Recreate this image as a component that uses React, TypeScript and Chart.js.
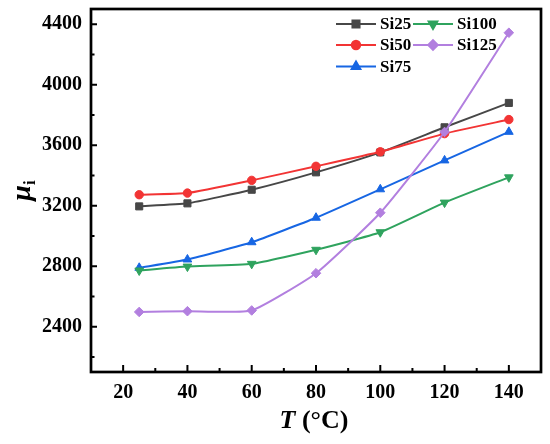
import React, { useEffect, useRef } from 'react';
import { Chart, registerables } from 'chart.js';
import { drawPoint } from 'chart.js/helpers';

Chart.register(...registerables);

const temperatures = [25, 40, 60, 80, 100, 120, 140];
const si25 = [3195, 3215, 3305, 3420, 3552, 3718, 3879];
const si50 = [3272, 3283, 3367, 3460, 3556, 3676, 3769];
const si75 = [2789, 2844, 2958, 3120, 3308, 3499, 3688];
const si100 = [2771, 2797, 2815, 2908, 3024, 3220, 3387];
const si125 = [2497, 2502, 2507, 2753, 3153, 3687, 4343];

const seriesNames = ['Si25', 'Si50', 'Si75', 'Si100', 'Si125'];
const seriesValues = [si25, si50, si75, si100, si125];
const seriesColors = ['#474747', '#f23434', '#1766e3', '#2fa35e', '#b27fdf'];
const seriesStyles = ['rect', 'circle', 'triangle', 'triangle', 'rectRot'];
const seriesRotations = [0, 0, 0, 180, 0];
const seriesRadius = [5, 4.2, 5, 5, 4.8];

const xTicks = [20, 40, 60, 80, 100, 120, 140];
const yTicks = [2400, 2800, 3200, 3600, 4000, 4400];
const X_MIN = 10;
const X_MAX = 150;
const Y_MIN = 2100;
const Y_MAX = 4500;

const FONT = "'Liberation Serif', 'Times New Roman', serif";

const minorOf = (ticks: number[], min: number, max: number) => {
  const step = ticks[1] - ticks[0];
  const out: number[] = [];
  for (let v = ticks[0] - step / 2; v <= max; v += step) {
    if (v >= min) out.push(v);
  }
  return out;
};

const framePlugin = {
  id: 'frameAndTicks',
  afterDraw(chart: any) {
    const { ctx, chartArea } = chart;
    const { left, right, top, bottom } = chartArea;
    const xs = chart.scales.x;
    const ys = chart.scales.y;
    ctx.save();
    ctx.strokeStyle = '#000';
    ctx.lineWidth = 2;
    ctx.beginPath();
    xTicks.forEach((v) => {
      const px = xs.getPixelForValue(v);
      ctx.moveTo(px, bottom);
      ctx.lineTo(px, bottom - 7);
    });
    minorOf(xTicks, X_MIN, X_MAX).forEach((v) => {
      const px = xs.getPixelForValue(v);
      ctx.moveTo(px, bottom);
      ctx.lineTo(px, bottom - 4);
    });
    yTicks.forEach((v) => {
      const py = ys.getPixelForValue(v);
      ctx.moveTo(left, py);
      ctx.lineTo(left + 6, py);
    });
    minorOf(yTicks, Y_MIN, Y_MAX).forEach((v) => {
      const py = ys.getPixelForValue(v);
      ctx.moveTo(left, py);
      ctx.lineTo(left + 3.5, py);
    });
    ctx.stroke();
    ctx.lineWidth = 2.7;
    ctx.strokeRect(left, top, right - left, bottom - top);

    // X title: T (°C)
    ctx.fillStyle = '#000';
    ctx.textBaseline = 'alphabetic';
    const f1 = `italic bold 26px ${FONT}`;
    const f2 = `bold 26px ${FONT}`;
    ctx.font = f1;
    const wT = ctx.measureText('T').width;
    ctx.font = f2;
    const wRest = ctx.measureText(' (°C)').width;
    const cx = (left + right) / 2 - 2;
    const startX = cx - (wT + wRest) / 2;
    ctx.font = f1;
    ctx.fillText('T', startX, 428);
    ctx.font = f2;
    ctx.fillText(' (°C)', startX + wT, 428);

    // Y title: μi
    ctx.save();
    ctx.translate(30, (top + bottom) / 2);
    ctx.rotate(-Math.PI / 2);
    const fm = `italic bold 28px ${FONT}`;
    const fi = `bold 17px ${FONT}`;
    ctx.font = fm;
    const wm = ctx.measureText('μ').width;
    ctx.font = fi;
    const wi = ctx.measureText('i').width;
    const sx = -(wm + wi) / 2;
    ctx.font = fm;
    ctx.fillText('μ', sx, 0);
    ctx.font = fi;
    ctx.fillText('i', sx + wm, 5);
    ctx.restore();

    // Legend
    const cols = [336, 413];
    const rows = [24, 45, 66.5];
    ctx.font = `bold 17px ${FONT}`;
    ctx.textBaseline = 'middle';
    seriesNames.forEach((name, i) => {
      const col = i < 3 ? 0 : 1;
      const row = i < 3 ? i : i - 3;
      const x0 = cols[col];
      const y0 = rows[row];
      ctx.strokeStyle = seriesColors[i];
      ctx.lineWidth = 2;
      ctx.beginPath();
      ctx.moveTo(x0, y0);
      ctx.lineTo(x0 + 40, y0);
      ctx.stroke();
      ctx.fillStyle = seriesColors[i];
      drawPoint(
        ctx,
        {
          pointStyle: seriesStyles[i],
          rotation: seriesRotations[i],
          radius: seriesRadius[i],
          borderWidth: 1,
        } as any,
        x0 + 20,
        y0
      );
      ctx.fillStyle = '#000';
      ctx.fillText(name, x0 + 44, y0 + 1);
    });
    ctx.restore();
  },
};

export default function App() {
  const canvasRef = useRef<HTMLCanvasElement | null>(null);

  useEffect(() => {
    document.body.style.margin = '0';
    const canvas = canvasRef.current;
    if (!canvas) return;
    const datasets = seriesNames.map((name, i) => ({
      label: name,
      data: temperatures.map((t, j) => ({ x: t, y: seriesValues[i][j] })),
      borderColor: seriesColors[i],
      backgroundColor: seriesColors[i],
      borderWidth: 2,
      pointStyle: seriesStyles[i],
      pointRotation: seriesRotations[i],
      pointRadius: seriesRadius[i],
      pointBorderWidth: 1,
      tension: 0.15,
      order: 5 - i,
    }));
    const chart = new Chart(canvas, {
      type: 'line',
      data: { datasets },
      options: {
        animation: false,
        responsive: true,
        maintainAspectRatio: false,
        layout: { padding: { top: 9, right: 9, left: 0, bottom: 0 } },
        plugins: {
          legend: { display: false },
          tooltip: { enabled: false },
        },
        scales: {
          x: {
            type: 'linear',
            min: X_MIN,
            max: X_MAX,
            grid: { display: false, drawTicks: false },
            border: { display: false },
            afterBuildTicks: (s: any) => {
              s.ticks = xTicks.map((v) => ({ value: v }));
            },
            afterFit: (s: any) => {
              s.height = 72;
              s.paddingLeft = 0;
              s.paddingRight = 0;
              s.paddingTop = 0;
              s.paddingBottom = 0;
            },
            ticks: {
              padding: 9,
              color: '#000',
              font: { family: FONT, size: 20, weight: 'bold' },
              maxRotation: 0,
              callback: (v: any) => String(v),
            },
          },
          y: {
            type: 'linear',
            min: Y_MIN,
            max: Y_MAX,
            grid: { display: false, drawTicks: false },
            border: { display: false },
            afterBuildTicks: (s: any) => {
              s.ticks = yTicks.map((v) => ({ value: v }));
            },
            afterFit: (s: any) => {
              s.width = 91;
              s.paddingLeft = 0;
              s.paddingRight = 0;
              s.paddingTop = 0;
              s.paddingBottom = 0;
            },
            ticks: {
              padding: 9,
              color: '#000',
              font: { family: FONT, size: 20, weight: 'bold' },
              callback: (v: any) => String(v),
            },
          },
        },
      },
      plugins: [framePlugin],
    } as any);
    return () => chart.destroy();
  }, []);

  return (
    <div style={{ width: 550, height: 444, position: 'relative' }}>
      <canvas ref={canvasRef} />
    </div>
  );
}
